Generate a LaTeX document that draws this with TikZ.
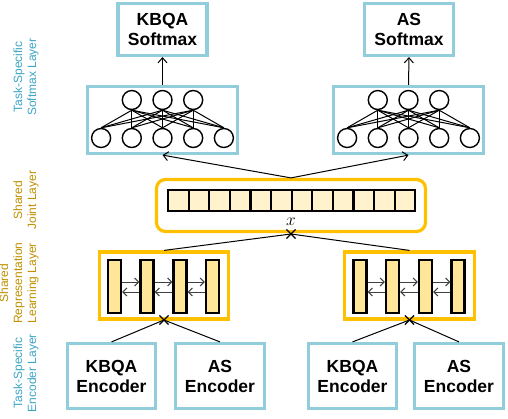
\documentclass[tikz,border=0pt]{standalone}
\usepackage{fontspec}
\setmainfont{Liberation Sans}
\usetikzlibrary{arrows.meta,shapes.misc}
\definecolor{boxblue}{RGB}{146,205,220}
\definecolor{labblue}{RGB}{60,165,195}
\definecolor{gold}{RGB}{255,192,0}
\definecolor{labgold}{RGB}{191,144,0}
\definecolor{cellfill}{RGB}{255,242,204}
\definecolor{barfill}{RGB}{255,230,153}
\definecolor{arrgray}{RGB}{64,64,64}
\begin{document}
\begin{tikzpicture}[x=1pt,y=-1pt,
  bluebox/.style={draw=boxblue,line width=3.2pt,inner sep=0pt,align=center,
    font=\fontsize{17.5}{20}\selectfont\bfseries},
  goldbox/.style={draw=gold,line width=3.2pt,inner sep=0pt},
  neuron/.style={circle,draw,line width=1.4pt,minimum size=19pt,inner sep=0pt},
  cell/.style={draw,line width=2.2pt,fill=cellfill,minimum width=20.6pt,minimum height=21pt,inner sep=0pt},
  bar/.style={draw,line width=2.4pt,fill=barfill,minimum width=13pt,minimum height=53pt,inner sep=0pt},
  conn/.style={line width=1pt},
  arr/.style={line width=1pt,-{Straight Barb[length=5pt,width=9pt]}},
  barr/.style={line width=1pt,draw=arrgray,-{Straight Barb[length=4pt,width=8pt]}},
  xmark/.style={cross out,draw,line width=1.2pt,minimum size=8pt,inner sep=0pt},
  sidelab/.style={rotate=90,align=center,font=\fontsize{12}{14}\selectfont}
]
\useasboundingbox (0,0) rectangle (508,418);

% softmax boxes
\node[bluebox,minimum width=89pt,minimum height=52pt] (ksm) at (162.5,29.5) {KBQA\\Softmax};
\node[bluebox,minimum width=89pt,minimum height=52pt] (asm) at (409,29.5) {AS\\Softmax};

% NN boxes
\node[draw=boxblue,line width=3.2pt,minimum width=150pt,minimum height=67pt,inner sep=0pt] (lnn) at (162.5,120) {};
\node[draw=boxblue,line width=3.2pt,minimum width=150pt,minimum height=67pt,inner sep=0pt] (rnn) at (408.5,120) {};

\foreach \s/\cx in {l/162.5,r/408.5}{
  \foreach \i/\dx in {1/-30.7,2/0,3/30.7}{
    \node[neuron] (\s t\i) at (\cx+\dx,100) {};
  }
  \foreach \j/\dx in {1/-61.4,2/-30.7,3/0,4/30.7,5/61.4}{
    \node[neuron] (\s b\j) at (\cx+\dx,138) {};
  }
  \foreach \i in {1,2,3}{
    \foreach \j in {1,...,5}{
      \draw[conn] (\s t\i.south) -- (\s b\j.north);
    }
  }
}
\draw[arr] (lnn.north) -- (ksm.south);
\draw[arr] (rnn.north) -- (asm.south);

% joint layer
\node[goldbox,rounded corners=9pt,minimum width=269pt,minimum height=52pt] (joint) at (291,205.5) {};
\foreach \k in {1,...,12}{
  \node[cell] (c\k) at (168+20.6*\k-10.3,200.5) {};
}
\draw[arr] (joint.north) -- (lnn.south);
\draw[arr] (joint.north) -- (rnn.south);
\node[font=\fontsize{19}{19}\selectfont] (xlab) at (291,222) {$x$};
\node[xmark] (jx) at (291,234) {};

% representation boxes
\node[goldbox,minimum width=129pt,minimum height=67pt] (lrep) at (164,285.5) {};
\node[goldbox,minimum width=130pt,minimum height=67pt] (rrep) at (409.5,285.5) {};
\foreach \s/\cx in {l/164,r/409.5}{
  \foreach \k/\dx in {1/-49.5,2/-17,3/16,4/48.5}{
    \node[bar] (\s bar\k) at (\cx+\dx,286.5) {};
  }
  \foreach \a/\b in {1/2,2/3,3/4}{
    \draw[barr] ([yshift=4.5pt]\s bar\a.east) -- ([yshift=4.5pt]\s bar\b.west);
    \draw[barr] ([yshift=-5.5pt]\s bar\b.west) -- ([yshift=-5.5pt]\s bar\a.east);
  }
}
\draw[conn] (lrep.north) -- (jx.center);
\draw[conn] (rrep.north) -- (jx.center);
\node[xmark] (lx) at (164,320) {};
\node[xmark] (rx) at (409.5,320) {};

% encoders
\node[bluebox,minimum width=88pt,minimum height=65pt] (lke) at (111.5,376) {KBQA\\Encoder};
\node[bluebox,minimum width=89pt,minimum height=65pt] (lae) at (220,376) {AS\\Encoder};
\node[bluebox,minimum width=88pt,minimum height=65pt] (rke) at (352.5,376) {KBQA\\Encoder};
\node[bluebox,minimum width=89pt,minimum height=65pt] (rae) at (459,376) {AS\\Encoder};
\draw[conn] (lke.north) -- (lx.center);
\draw[conn] (lae.north) -- (lx.center);
\draw[conn] (rke.north) -- (rx.center);
\draw[conn] (rae.north) -- (rx.center);

% side labels
\node[sidelab,text=labblue] (l1) at (26,77) {Task-Specific\\Softmax Layer};
\node[sidelab,text=labgold] (l2) at (26,200) {Shared\\Joint Layer};
\node[sidelab,text=labgold] (l3) at (19,283) {Shared\\Representation\\Learning Layer};
\node[sidelab,text=labblue] (l4) at (26,373) {Task-Specific\\Encoder Layer};
\end{tikzpicture}
\end{document}
